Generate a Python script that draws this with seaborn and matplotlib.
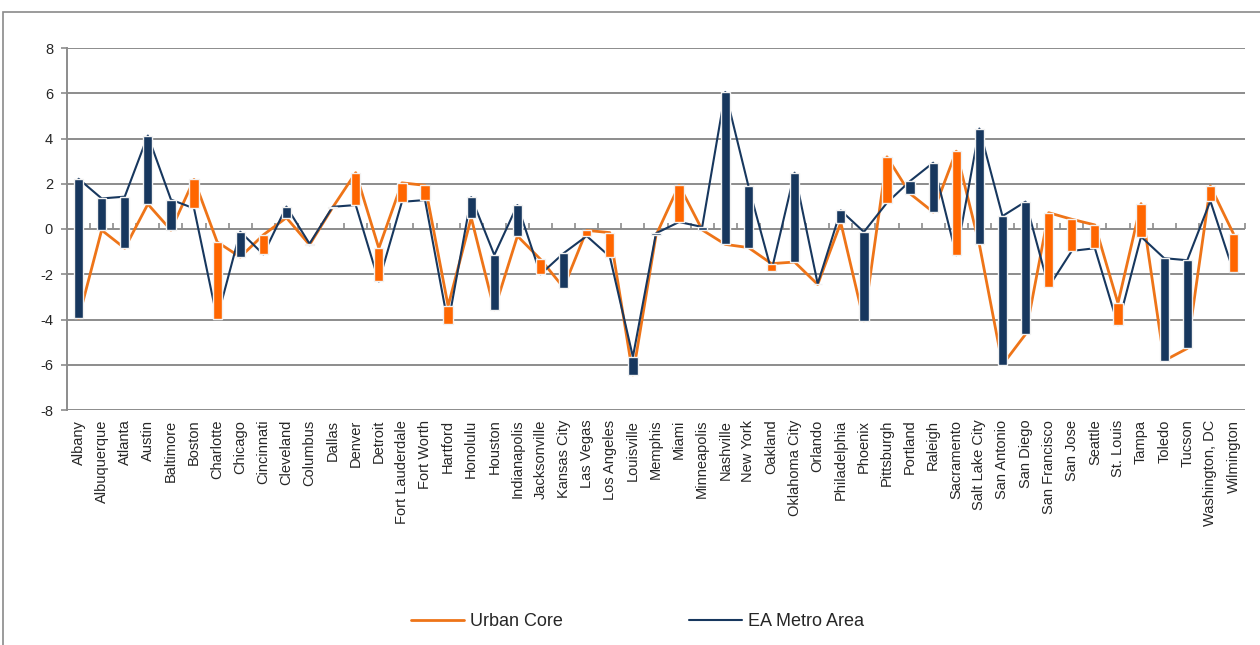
import numpy as np
import pandas as pd
import matplotlib
matplotlib.use("Agg")
import matplotlib.pyplot as plt
from matplotlib.lines import Line2D
from matplotlib.patches import Rectangle
import seaborn as sns

cities = [
    "Albany", "Albuquerque", "Atlanta", "Austin", "Baltimore", "Boston", "Charlotte",
    "Chicago", "Cincinnati", "Cleveland", "Columbus", "Dallas", "Denver", "Detroit",
    "Fort Lauderdale", "Fort Worth", "Hartford", "Honolulu", "Houston", "Indianapolis",
    "Jacksonville", "Kansas City", "Las Vegas", "Los Angeles", "Louisville", "Memphis",
    "Miami", "Minneapolis", "Nashville", "New York", "Oakland", "Oklahoma City",
    "Orlando", "Philadelphia", "Phoenix", "Pittsburgh", "Portland", "Raleigh",
    "Sacramento", "Salt Lake City", "San Antonio", "San Diego", "San Francisco",
    "San Jose", "Seattle", "St. Louis", "Tampa", "Toledo", "Tucson",
    "Washington, DC", "Wilmington",
]

urban_core = [
    -3.95, -0.05, -0.85, 1.10, -0.05, 2.19, -0.57,
    -1.24, -0.26, 0.50, -0.70, 0.95, 2.49, -0.85,
    2.04, 1.93, -3.40, 0.50, -3.57, -0.31,
    -1.34, -2.59, -0.06, -0.16, -6.45, -0.28,
    1.94, -0.04, -0.68, -0.82, -1.53, -1.46,
    -2.45, 0.28, -4.06, 3.19, 1.56, 0.75,
    3.44, -0.68, -6.00, -4.65, 0.72,
    0.43, 0.18, -3.28, 1.12, -5.82, -5.28,
    1.90, -0.21,
]

ea_metro = [
    2.22, 1.35, 1.43, 4.13, 1.30, 0.91, -3.96,
    -0.12, -1.12, 0.99, -0.65, 0.98, 1.06, -2.32,
    1.20, 1.28, -4.20, 1.41, -1.15, 1.06,
    -2.00, -1.07, -0.31, -1.22, -5.65, -0.19,
    0.31, 0.09, 6.06, 1.90, -1.85, 2.49,
    -2.42, 0.82, -0.13, 1.16, 2.12, 2.93,
    -1.16, 4.44, 0.57, 1.21, -2.56,
    -0.97, -0.85, -4.25, -0.34, -1.29, -1.38,
    1.24, -1.88,
]

y_ticks = [-8, -6, -4, -2, 0, 2, 4, 6, 8]

ORANGE_LINE = "#EE7418"
ORANGE_BAR = "#FF6600"
NAVY = "#17375E"
GRID = "#8C8C8C"

sns.set_theme(style="white")
plt.rcParams["font.family"] = ["Liberation Sans", "DejaVu Sans"]

pos = np.arange(len(cities))
df = pd.DataFrame({
    "pos": np.concatenate([pos, pos]),
    "value": urban_core + ea_metro,
    "series": ["Urban Core"] * len(cities) + ["EA Metro Area"] * len(cities),
})

fig = plt.figure(figsize=(12.6, 6.45), dpi=100)
ax = fig.add_axes([67 / 1260, 1 - 410 / 645, (1245 - 67) / 1260, (410 - 48) / 645])

# horizontal gridlines (the one at zero doubles as the category axis)
for t in y_ticks:
    ax.axhline(t, color=GRID, lw=1.4, zorder=0)

sns.lineplot(data=df[df.series == "Urban Core"], x="pos", y="value",
             color=ORANGE_LINE, lw=2.0, ax=ax, zorder=2, legend=False)
sns.lineplot(data=df[df.series == "EA Metro Area"], x="pos", y="value",
             color=NAVY, lw=1.5, ax=ax, zorder=2, legend=False)

# up/down bars between the two series
uc = np.array(urban_core)
ea = np.array(ea_metro)
lo = np.minimum(uc, ea)
hi = np.maximum(uc, ea)
bar_colors = [NAVY if e > u else ORANGE_BAR for u, e in zip(uc, ea)]
ax.bar(pos, hi - lo, bottom=lo, width=0.4, color=bar_colors,
       edgecolor="#F2F2F2", linewidth=1.0, zorder=3)

ax.set_xlim(-0.5, len(cities) - 0.5)
ax.set_ylim(-8, 8)
ax.set_yticks(y_ticks)
ax.set_yticklabels([str(t) for t in y_ticks], fontsize=10.5)
ax.tick_params(axis="y", length=4, color=GRID, width=1.2, pad=6, left=True)
ax.set_xticks(pos)
ax.set_xticklabels(cities, rotation=90, fontsize=10.5)
ax.tick_params(axis="x", length=0, pad=7)
ax.set_xlabel("")
ax.set_ylabel("")

for side in ["top", "right", "bottom"]:
    ax.spines[side].set_visible(False)
ax.spines["left"].set_color(GRID)
ax.spines["left"].set_linewidth(1.4)

# boundary tick marks along the zero line
sec = ax.secondary_xaxis(0.5)
sec.set_xticks(np.arange(len(cities) + 1) - 0.5)
sec.set_xticklabels([])
sec.tick_params(axis="x", length=4, width=1.2, color=GRID, direction="out")
for sp in sec.spines.values():
    sp.set_visible(False)

# outer chart frame
fig.patches.append(Rectangle((3 / 1260, -0.05), 1.2, 0.05 + 1 - 12 / 645,
                             transform=fig.transFigure, fill=False,
                             edgecolor="#8A8A8A", lw=1.2, zorder=0))

handles = [Line2D([], [], color=ORANGE_LINE, lw=2.0),
           Line2D([], [], color=NAVY, lw=1.5)]
fig.legend(handles, ["Urban Core", "EA Metro Area"], loc="center",
           bbox_to_anchor=(0.506, 1 - 622 / 645), ncol=2, frameon=False,
           fontsize=13, handlelength=2.9, handletextpad=0.35, columnspacing=7.0)

fig.savefig("out.png", dpi=100, facecolor="white")
